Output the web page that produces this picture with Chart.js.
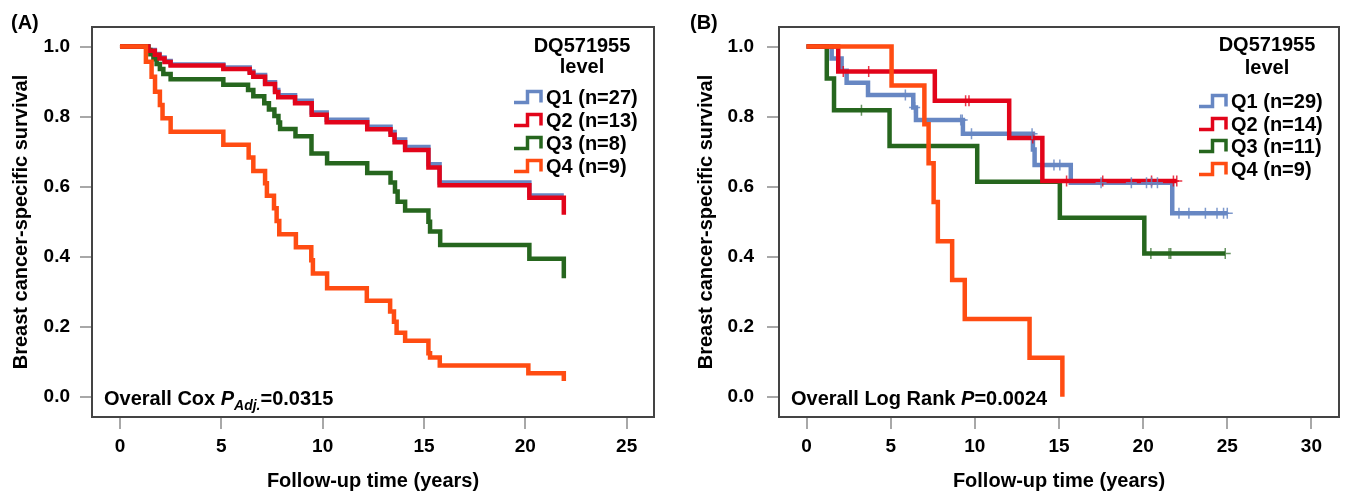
<!DOCTYPE html>
<html>
<head>
<meta charset="utf-8">
<script src="https://cdn.jsdelivr.net/npm/chart.js@4.4.1/dist/chart.umd.min.js"></script>
<style>
  html, body { margin: 0; padding: 0; background: #fff; }
  #wrap { position: relative; width: 1346px; height: 493px; background: #fff; }
  .panel { position: absolute; top: 0; width: 673px; height: 493px; }
</style>
</head>
<body>
<div id="wrap">
  <div class="panel" style="left:0"><canvas id="chartA" width="673" height="493"></canvas></div>
  <div class="panel" style="left:673px"><canvas id="chartB" width="673" height="493"></canvas></div>
</div>
<script>
// ---- data ----
const groups = ['Q1', 'Q2', 'Q3', 'Q4'];
const yTicks = [0, 0.2, 0.4, 0.6, 0.8, 1.0];
const xTicksA = [0, 5, 10, 15, 20, 25];
const xTicksB = [0, 5, 10, 15, 20, 25, 30];

const legendA = ['Q1 (n=27)', 'Q2 (n=13)', 'Q3 (n=8)', 'Q4 (n=9)'];
const legendB = ['Q1 (n=29)', 'Q2 (n=14)', 'Q3 (n=11)', 'Q4 (n=9)'];

// (A) adjusted survival curves
const aQ1Time = [0, 1.40, 1.72, 1.95, 2.20, 2.50, 5.10, 6.40, 6.58, 7.16, 7.65, 7.81, 8.64, 9.46, 10.20, 12.20, 13.35, 13.55, 14.07, 15.22, 15.77, 20.20, 21.90];
const aQ1Surv = [1, 0.990, 0.979, 0.969, 0.959, 0.949, 0.940, 0.929, 0.919, 0.898, 0.876, 0.861, 0.845, 0.812, 0.791, 0.771, 0.756, 0.735, 0.713, 0.664, 0.612, 0.575, 0.575];
const aQ2Time = [0, 1.40, 1.72, 1.95, 2.20, 2.50, 5.10, 6.40, 6.58, 7.16, 7.65, 7.81, 8.64, 9.46, 10.20, 12.20, 13.35, 13.55, 14.07, 15.22, 15.77, 20.20, 21.90];
const aQ2Surv = [1, 0.988, 0.977, 0.966, 0.956, 0.946, 0.936, 0.925, 0.914, 0.893, 0.870, 0.855, 0.838, 0.805, 0.784, 0.764, 0.748, 0.727, 0.705, 0.655, 0.604, 0.568, 0.520];
const aQ3Time = [0, 1.40, 1.50, 1.65, 1.81, 1.97, 2.14, 2.50, 5.10, 6.32, 6.58, 7.12, 7.35, 7.62, 7.82, 7.90, 8.66, 9.45, 10.22, 12.20, 13.35, 13.57, 13.70, 14.07, 15.22, 15.30, 15.80, 20.20, 21.90];
const aQ3Surv = [1, 0.990, 0.978, 0.964, 0.950, 0.936, 0.922, 0.907, 0.891, 0.876, 0.858, 0.838, 0.820, 0.802, 0.783, 0.765, 0.744, 0.695, 0.667, 0.639, 0.612, 0.586, 0.557, 0.532, 0.500, 0.472, 0.433, 0.394, 0.338];
const aQ4Time = [0, 1.28, 1.56, 1.73, 1.97, 2.10, 2.50, 5.10, 6.35, 6.58, 7.16, 7.25, 7.60, 7.73, 7.86, 8.68, 9.44, 9.52, 10.22, 12.18, 13.33, 13.52, 13.65, 14.07, 15.22, 15.30, 15.78, 20.15, 21.90];
const aQ4Surv = [1, 0.957, 0.914, 0.871, 0.833, 0.795, 0.757, 0.720, 0.683, 0.645, 0.610, 0.574, 0.538, 0.502, 0.464, 0.427, 0.390, 0.352, 0.310, 0.274, 0.243, 0.214, 0.183, 0.160, 0.124, 0.112, 0.089, 0.067, 0.045];

// (B) Kaplan-Meier curves
const bQ1Time = [0, 1.49, 2.08, 2.38, 3.65, 6.34, 6.50, 9.29, 13.45, 13.55, 15.70, 21.73, 25.00];
const bQ1Surv = [1, 0.966, 0.931, 0.897, 0.862, 0.826, 0.790, 0.751, 0.706, 0.662, 0.611, 0.524, 0.524];
const bQ2Time = [0, 1.88, 7.62, 12.04, 14.01, 22.00];
const bQ2Surv = [1, 0.929, 0.845, 0.739, 0.616, 0.616];
const bQ3Time = [0, 1.20, 1.63, 4.93, 10.14, 15.05, 20.07, 24.88];
const bQ3Surv = [1, 0.909, 0.818, 0.716, 0.614, 0.511, 0.409, 0.409];
const bQ4Time = [0, 5.05, 7.00, 7.25, 7.55, 7.80, 8.65, 9.40, 13.25, 15.20];
const bQ4Surv = [1, 0.889, 0.778, 0.667, 0.556, 0.444, 0.333, 0.222, 0.111, 0];

// censored times (B)
const bQ1Censor = [5.87, 6.42, 9.16, 9.25, 9.80, 13.40, 14.70, 15.05, 17.50, 19.30, 20.20, 20.50, 20.85, 22.13, 22.72, 23.70, 24.39, 24.78, 25.00];
const bQ2Censor = [2.18, 3.69, 9.45, 9.65, 13.44, 15.45, 17.60, 20.50, 21.80, 22.00];
const bQ3Censor = [3.26, 20.46, 21.54, 21.64, 24.88];

// ---- styling ----
const FONT = "'Liberation Sans', Arial, Helvetica, sans-serif";
const colors = { Q1: 'rgb(103,135,195)', Q2: 'rgb(226,4,26)', Q3: 'rgb(38,102,30)', Q4: 'rgb(255,76,18)' };
const censorColors = { Q1: 'rgba(103,135,195,0.85)', Q2: 'rgba(226,4,26,0.8)', Q3: 'rgba(38,102,30,0.7)' };
const drawOrder = { Q1: 4, Q2: 2, Q3: 3, Q4: 1 };

Chart.defaults.font.family = FONT;
Chart.defaults.color = '#000';

function toPoints(times, surv) {
  return times.map((t, i) => ({ x: t, y: surv[i] }));
}
function survAt(times, surv, t) {
  let v = surv[0];
  for (let i = 0; i < times.length; i++) if (times[i] <= t) v = surv[i];
  return v;
}

function curve(g, times, surv) {
  return {
    label: g,
    data: toPoints(times, surv),
    borderColor: colors[g],
    borderWidth: 4.5,
    stepped: 'before',
    pointRadius: 0,
    fill: false,
    borderJoinStyle: 'miter',
    borderCapStyle: 'butt',
    order: drawOrder[g]
  };
}
function censors(g, times, surv, ct) {
  return {
    type: 'scatter',
    label: g + ' censored',
    data: ct.map(t => ({ x: t, y: survAt(times, surv, t) })),
    pointStyle: 'cross',
    pointRadius: 5.5,
    pointBorderWidth: 1.5,
    pointBorderColor: censorColors[g],
    pointBackgroundColor: censorColors[g],
    showLine: false,
    order: 0
  };
}

// box, legend, p-value text, panel letter
const decorPlugin = {
  id: 'decor',
  afterDraw(chart, args, opts) {
    const ctx = chart.ctx;
    const a = chart.chartArea;
    ctx.save();
    // frame
    ctx.strokeStyle = '#444';
    ctx.lineWidth = 2;
    ctx.strokeRect(a.left, a.top, a.right - a.left, a.bottom - a.top);

    // panel letter
    ctx.fillStyle = '#000';
    ctx.textBaseline = 'alphabetic';
    ctx.textAlign = 'left';
    ctx.font = 'bold 20px ' + FONT;
    ctx.fillText(opts.letter, opts.letterX, 29);

    // legend
    ctx.textAlign = 'center';
    ctx.textBaseline = 'middle';
    ctx.fillText('DQ571955', a.right - 72, opts.rows[0]);
    ctx.fillText('level', a.right - 72, opts.rows[1]);
    ctx.textAlign = 'left';
    opts.labels.forEach((lab, i) => {
      const y = opts.rows[i + 2];
      const x0 = a.right - 140;
      const w = 27, h = 11;
      ctx.strokeStyle = colors[groups[i]];
      ctx.lineWidth = 3.5;
      ctx.lineJoin = 'miter';
      ctx.beginPath();
      ctx.moveTo(x0, y + h / 2);
      ctx.lineTo(x0 + w * 0.5, y + h / 2);
      ctx.lineTo(x0 + w * 0.5, y - h / 2);
      ctx.lineTo(x0 + w, y - h / 2);
      ctx.lineTo(x0 + w, y + h / 2);
      ctx.stroke();
      ctx.fillStyle = '#000';
      ctx.fillText(lab, a.right - 108, y + 1);
    });

    // p-value note
    ctx.textBaseline = 'alphabetic';
    let x = a.left + 12;
    const y = a.bottom - 12;
    opts.note.forEach(r => {
      ctx.font = r.font + FONT;
      ctx.fillText(r.text, x, y + (r.dy || 0));
      x += ctx.measureText(r.text).width;
    });
    ctx.restore();
  }
};

function makeOptions(xMin, xMax, xTicks, yWidth, yLabelPad, yTitlePad, padRight, decor) {
  return {
    responsive: false,
    animation: false,
    events: [],
    layout: { padding: { top: 27, right: padRight, left: 0, bottom: 0 } },
    plugins: { legend: { display: false }, tooltip: { enabled: false }, decor: decor },
    scales: {
      x: {
        type: 'linear',
        min: xMin, max: xMax, bounds: 'data',
        afterBuildTicks: s => { s.ticks = xTicks.map(v => ({ value: v })); },
        afterFit: s => { s.height = 76; },
        ticks: { autoSkip: false, maxRotation: 0, padding: 6, font: { size: 19, weight: 'bold' }, color: '#000' },
        grid: { drawOnChartArea: false, drawTicks: true, tickLength: 12, color: '#a8a8a8', lineWidth: 2 },
        border: { display: false },
        title: { display: true, text: 'Follow-up time (years)', font: { size: 20, weight: 'bold' }, color: '#000', padding: { top: 0, bottom: 0 } }
      },
      y: {
        type: 'linear',
        min: -0.058, max: 1.056, bounds: 'data',
        afterBuildTicks: s => { s.ticks = yTicks.map(v => ({ value: v })); },
        afterFit: s => { s.width = yWidth; },
        ticks: { padding: yLabelPad, font: { size: 19, weight: 'bold' }, color: '#000', callback: v => Number(v).toFixed(1) },
        grid: { drawOnChartArea: false, drawTicks: true, tickLength: 12, color: '#a8a8a8', lineWidth: 2 },
        border: { display: false },
        title: { display: true, text: 'Breast cancer-specific survival', font: { size: 20, weight: 'bold' }, color: '#000', padding: { top: yTitlePad, bottom: 0 } }
      }
    }
  };
}

new Chart(document.getElementById('chartA'), {
  type: 'line',
  data: {
    datasets: [
      curve('Q1', aQ1Time, aQ1Surv),
      curve('Q2', aQ2Time, aQ2Surv),
      curve('Q3', aQ3Time, aQ3Surv),
      curve('Q4', aQ4Time, aQ4Surv)
    ]
  },
  options: makeOptions(-1.38, 26.35, xTicksA, 92, 10, 9, 19, {
    letter: '(A)', letterX: 11,
    rows: [46, 67, 97, 120, 143, 166],
    labels: legendA,
    note: [
      { text: 'Overall Cox ', font: 'bold 20px ' },
      { text: 'P', font: 'italic bold 20px ' },
      { text: 'Adj.', font: 'italic bold 14px ', dy: 5 },
      { text: '=0.0315', font: 'bold 20px ' }
    ]
  }),
  plugins: [decorPlugin]
});

new Chart(document.getElementById('chartB'), {
  type: 'line',
  data: {
    datasets: [
      curve('Q1', bQ1Time, bQ1Surv),
      curve('Q2', bQ2Time, bQ2Surv),
      curve('Q3', bQ3Time, bQ3Surv),
      curve('Q4', bQ4Time, bQ4Surv),
      censors('Q1', bQ1Time, bQ1Surv, bQ1Censor),
      censors('Q2', bQ2Time, bQ2Surv, bQ2Censor),
      censors('Q3', bQ3Time, bQ3Surv, bQ3Censor)
    ]
  },
  options: makeOptions(-1.64, 31.64, xTicksB, 106, 13, 21, 3, {
    letter: '(B)', letterX: 17,
    rows: [45, 68, 101, 124, 146, 169],
    labels: legendB,
    note: [
      { text: 'Overall Log Rank ', font: 'bold 20px ' },
      { text: 'P', font: 'italic bold 20px ' },
      { text: '=0.0024', font: 'bold 20px ' }
    ]
  }),
  plugins: [decorPlugin]
});
</script>
</body>
</html>
